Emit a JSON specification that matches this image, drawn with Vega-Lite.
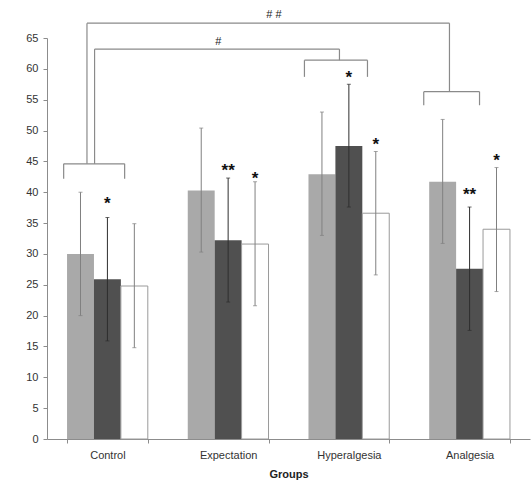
{
  "$schema": "https://vega.github.io/schema/vega-lite/v6.json",
  "width": 483,
  "height": 401,
  "autosize": {"type": "none"},
  "padding": {"left": 47, "top": 38, "right": 1, "bottom": 41},
  "background": "white",
  "config": {
    "view": {"stroke": null},
    "font": "Liberation Sans",
    "axis": {
      "labelFont": "Liberation Sans",
      "labelFontSize": 11,
      "labelColor": "#333333",
      "domainColor": "#8c8c8c",
      "tickColor": "#8c8c8c",
      "tickSize": 4,
      "grid": false,
      "titleFont": "Liberation Sans",
      "titleColor": "#222222"
    }
  },
  "datasets": {
    "bars": [
      {"group": "Control", "series": "A", "value": 30.0, "lo": 20.0, "hi": 40.0},
      {"group": "Control", "series": "B", "value": 25.9, "lo": 15.9, "hi": 35.9},
      {"group": "Control", "series": "C", "value": 24.8, "lo": 14.8, "hi": 34.9},
      {"group": "Expectation", "series": "A", "value": 40.3, "lo": 30.3, "hi": 50.4},
      {"group": "Expectation", "series": "B", "value": 32.2, "lo": 22.2, "hi": 42.3},
      {"group": "Expectation", "series": "C", "value": 31.6, "lo": 21.6, "hi": 41.7},
      {"group": "Hyperalgesia", "series": "A", "value": 42.9, "lo": 33.0, "hi": 53.0},
      {"group": "Hyperalgesia", "series": "B", "value": 47.5, "lo": 37.6, "hi": 57.5},
      {"group": "Hyperalgesia", "series": "C", "value": 36.6, "lo": 26.6, "hi": 46.6},
      {"group": "Analgesia", "series": "A", "value": 41.7, "lo": 31.7, "hi": 51.8},
      {"group": "Analgesia", "series": "B", "value": 27.6, "lo": 17.6, "hi": 37.6},
      {"group": "Analgesia", "series": "C", "value": 34.0, "lo": 23.9, "hi": 44.0}
    ],
    "stars": [
      {"group": "Control", "series": "B", "y": 38.9, "label": "*"},
      {"group": "Expectation", "series": "B", "y": 44.3, "label": "**"},
      {"group": "Expectation", "series": "C", "y": 43.0, "label": "*"},
      {"group": "Hyperalgesia", "series": "B", "y": 59.3, "label": "*"},
      {"group": "Hyperalgesia", "series": "C", "y": 48.4, "label": "*"},
      {"group": "Analgesia", "series": "B", "y": 40.4, "label": "**"},
      {"group": "Analgesia", "series": "C", "y": 45.8, "label": "*"}
    ],
    "brackets": [
      {"x1": 0.138, "x2": 0.643, "y1": 44.6, "y2": 44.6},
      {"x1": 0.138, "x2": 0.138, "y1": 44.6, "y2": 42.2},
      {"x1": 0.643, "x2": 0.643, "y1": 44.6, "y2": 42.2},
      {"x1": 2.132, "x2": 2.654, "y1": 61.4, "y2": 61.4},
      {"x1": 2.132, "x2": 2.132, "y1": 61.4, "y2": 58.7},
      {"x1": 2.654, "x2": 2.654, "y1": 61.4, "y2": 58.7},
      {"x1": 3.12, "x2": 3.582, "y1": 56.3, "y2": 56.3},
      {"x1": 3.12, "x2": 3.12, "y1": 56.3, "y2": 54.1},
      {"x1": 3.582, "x2": 3.582, "y1": 56.3, "y2": 54.1},
      {"x1": 0.394, "x2": 0.394, "y1": 44.6, "y2": 63.2},
      {"x1": 0.394, "x2": 2.422, "y1": 63.2, "y2": 63.2},
      {"x1": 2.422, "x2": 2.422, "y1": 63.2, "y2": 61.4},
      {"x1": 0.331, "x2": 0.331, "y1": 44.6, "y2": 67.4},
      {"x1": 0.331, "x2": 3.333, "y1": 67.4, "y2": 67.4},
      {"x1": 3.333, "x2": 3.333, "y1": 67.4, "y2": 56.3}
    ],
    "marks": [
      {"x": 1.419, "y": 64.3, "label": "#"},
      {"x": 1.88, "y": 68.7, "label": "# #"}
    ]
  },
  "resolve": {"scale": {"x": "independent"}, "axis": {"x": "independent"}},
  "layer": [
    {
      "layer": [
        {
          "data": {"name": "bars"},
          "mark": {"type": "bar", "strokeWidth": 1},
          "encoding": {
            "x": {
              "field": "group", "type": "nominal",
              "sort": ["Control", "Expectation", "Hyperalgesia", "Analgesia"],
              "scale": {"paddingInner": 0.331, "paddingOuter": 0.166},
              "axis": {
                "title": "Groups", "titleFontWeight": "bold", "titleFontSize": 11, "titlePadding": 8,
                "labelAngle": 0, "labelPadding": 6, "tickBand": "extent", "tickSize": 4
              }
            },
            "xOffset": {"field": "series", "type": "nominal", "scale": {"paddingInner": 0, "paddingOuter": 0}},
            "y": {
              "field": "value", "type": "quantitative",
              "scale": {"domain": [0, 65], "nice": false},
              "axis": {"title": null, "values": [0, 5, 10, 15, 20, 25, 30, 35, 40, 45, 50, 55, 60, 65], "labelPadding": 5, "labelOverlap": false}
            },
            "fill": {
              "field": "series", "type": "nominal", "legend": null,
              "scale": {"domain": ["A", "B", "C"], "range": ["#a9a9a9", "#505050", "#ffffff"]}
            },
            "stroke": {
              "condition": {"test": "datum.series === 'C'", "value": "#9a9a9a"},
              "value": null
            }
          }
        },
        {
          "data": {"name": "bars"},
          "mark": {"type": "rule", "strokeWidth": 1},
          "encoding": {
            "x": {"field": "group", "type": "nominal", "sort": ["Control", "Expectation", "Hyperalgesia", "Analgesia"]},
            "xOffset": {"field": "series", "type": "nominal"},
            "y": {
              "field": "lo", "type": "quantitative", "scale": {"domain": [0, 65], "nice": false},
              "axis": {"title": null, "values": [0, 5, 10, 15, 20, 25, 30, 35, 40, 45, 50, 55, 60, 65], "labelPadding": 5, "labelOverlap": false}
            },
            "y2": {"field": "hi"},
            "color": {
              "condition": {"test": "datum.series === 'B'", "value": "#2e2e2e"},
              "value": "#808080"
            }
          }
        },
        {
          "data": {"name": "bars"},
          "mark": {"type": "tick", "size": 4, "thickness": 1, "orient": "horizontal"},
          "encoding": {
            "x": {"field": "group", "type": "nominal", "sort": ["Control", "Expectation", "Hyperalgesia", "Analgesia"]},
            "xOffset": {"field": "series", "type": "nominal"},
            "y": {
              "field": "lo", "type": "quantitative", "scale": {"domain": [0, 65], "nice": false},
              "axis": {"title": null, "values": [0, 5, 10, 15, 20, 25, 30, 35, 40, 45, 50, 55, 60, 65], "labelPadding": 5, "labelOverlap": false}
            },
            "color": {
              "condition": {"test": "datum.series === 'B'", "value": "#2e2e2e"},
              "value": "#808080"
            }
          }
        },
        {
          "data": {"name": "bars"},
          "mark": {"type": "tick", "size": 4, "thickness": 1, "orient": "horizontal"},
          "encoding": {
            "x": {"field": "group", "type": "nominal", "sort": ["Control", "Expectation", "Hyperalgesia", "Analgesia"]},
            "xOffset": {"field": "series", "type": "nominal"},
            "y": {
              "field": "hi", "type": "quantitative", "scale": {"domain": [0, 65], "nice": false},
              "axis": {"title": null, "values": [0, 5, 10, 15, 20, 25, 30, 35, 40, 45, 50, 55, 60, 65], "labelPadding": 5, "labelOverlap": false}
            },
            "color": {
              "condition": {"test": "datum.series === 'B'", "value": "#2e2e2e"},
              "value": "#808080"
            }
          }
        },
        {
          "data": {"name": "stars"},
          "mark": {"type": "text", "fontSize": 17, "fontWeight": "bold", "baseline": "alphabetic", "dy": 10, "color": "#111111"},
          "encoding": {
            "x": {"field": "group", "type": "nominal", "sort": ["Control", "Expectation", "Hyperalgesia", "Analgesia"]},
            "xOffset": {"field": "series", "type": "nominal", "scale": {"domain": ["A", "B", "C"]}},
            "y": {
              "field": "y", "type": "quantitative", "scale": {"domain": [0, 65], "nice": false},
              "axis": {"title": null, "values": [0, 5, 10, 15, 20, 25, 30, 35, 40, 45, 50, 55, 60, 65], "labelPadding": 5, "labelOverlap": false}
            },
            "text": {"field": "label"}
          }
        }
      ]
    },
    {
      "layer": [
        {
          "data": {"name": "brackets"},
          "mark": {"type": "rule", "strokeWidth": 1.2, "color": "#8a8a8a"},
          "encoding": {
            "x": {"field": "x1", "type": "quantitative", "scale": {"domain": [0, 4], "nice": false, "zero": false}, "axis": null},
            "x2": {"field": "x2"},
            "y": {
              "field": "y1", "type": "quantitative", "scale": {"domain": [0, 65], "nice": false},
              "axis": {"title": null, "values": [0, 5, 10, 15, 20, 25, 30, 35, 40, 45, 50, 55, 60, 65], "labelPadding": 5, "labelOverlap": false}
            },
            "y2": {"field": "y2"}
          }
        },
        {
          "data": {"name": "marks"},
          "mark": {"type": "text", "fontSize": 11, "baseline": "middle", "align": "center", "color": "#222222"},
          "encoding": {
            "x": {"field": "x", "type": "quantitative", "scale": {"domain": [0, 4], "nice": false, "zero": false}, "axis": null},
            "y": {
              "field": "y", "type": "quantitative", "scale": {"domain": [0, 65], "nice": false},
              "axis": {"title": null, "values": [0, 5, 10, 15, 20, 25, 30, 35, 40, 45, 50, 55, 60, 65], "labelPadding": 5, "labelOverlap": false}
            },
            "text": {"field": "label"}
          }
        }
      ]
    }
  ]
}
